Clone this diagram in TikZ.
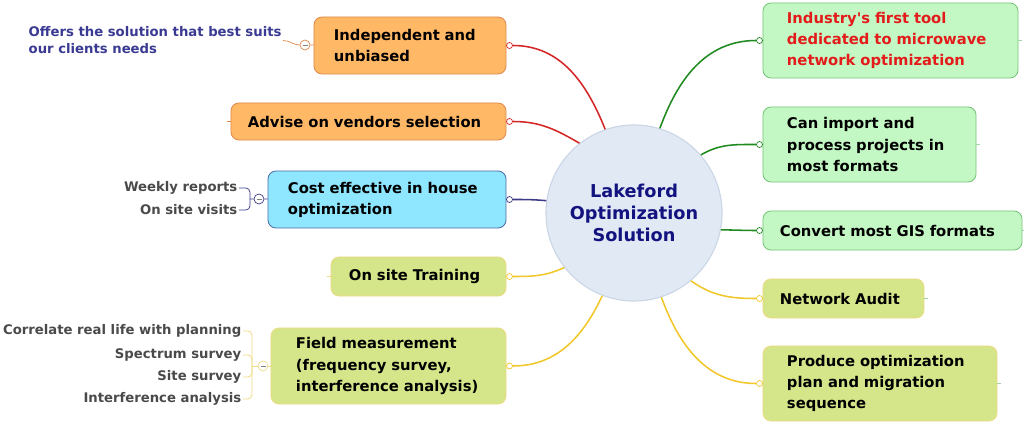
\documentclass[tikz,border=0pt]{standalone}
\usepackage{fontspec}
\setmainfont{DejaVu Sans}[Ligatures=TeXOff]

\definecolor{orfill}{HTML}{FFB966}
\definecolor{ordraw}{HTML}{E0894A}
\definecolor{cyfill}{HTML}{8FE7FF}
\definecolor{cydraw}{HTML}{4F6DA8}
\definecolor{ygfill}{HTML}{D4E58A}
\definecolor{ygdraw}{HTML}{EDDC85}
\definecolor{grfill}{HTML}{C3F7C3}
\definecolor{grdraw}{HTML}{78C278}
\definecolor{hubfill}{HTML}{E1E9F5}
\definecolor{hubdraw}{HTML}{CBD6E6}
\definecolor{redline}{HTML}{D42626}
\definecolor{navyline}{HTML}{3B3B86}
\definecolor{yelline}{HTML}{F2C72A}
\definecolor{grnline}{HTML}{1F8A1F}
\definecolor{hubtext}{HTML}{13137F}
\definecolor{redtext}{HTML}{E41B1B}
\definecolor{subblue}{HTML}{3A3A93}
\definecolor{subgray}{HTML}{4A4A4A}

\tikzset{
  topic/.style={draw, rounded corners=0.2cm, align=left, inner ysep=0pt,
    line width=0.6pt, font=\fontsize{10.5}{15}\selectfont\bfseries},
  orangetopic/.style={topic, fill=orfill, draw=ordraw},
  cyantopic/.style={topic, fill=cyfill, draw=cydraw},
  limetopic/.style={topic, fill=ygfill, draw=ygdraw},
  greentopic/.style={topic, fill=grfill, draw=grdraw},
  hub/.style={circle, fill=hubfill, draw=hubdraw, line width=0.8pt,
    minimum size=4.4cm, inner sep=0pt, align=center, text=hubtext,
    font=\fontsize{12.6}{15.6}\selectfont\bfseries},
  knob/.style={circle, draw, fill=white, inner sep=0pt, minimum size=0.15cm, line width=0.5pt},
  fold/.style={circle, draw, fill=white, inner sep=0pt, minimum size=0.25cm, line width=0.5pt,
    path picture={\draw[gray] (path picture bounding box.center) +(-2.5,0) -- +(2.5,0);}},
  branch/.style={line width=1.1pt},
  subtopic/.style={font=\fontsize{9.4}{12}\selectfont\bfseries, text=subgray, inner sep=1pt},
}

\begin{document}
\begin{tikzpicture}[x=0.025cm, y=0.025cm]
\useasboundingbox (0,0) rectangle (1024,-425);

% Centro
\node[hub] (hub) at (634,-213) {Lakeford\\Optimization\\Solution};

% Ramas izquierda
\node[orangetopic, text width=3.8cm, inner xsep=0.5cm, minimum height=1.425cm] (indep) at (410,-45.5) {Independent and\\unbiased};
\node[orangetopic, text width=6.025cm, inner xsep=0.425cm, minimum height=0.925cm] (advise) at (368.5,-121.5) {Advise on vendors selection};
\node[cyantopic, text width=4.95cm, inner xsep=0.5cm, minimum height=1.425cm] (cost) at (387,-199.5) {Cost effective in house\\optimization};
\node[limetopic, text width=3.475cm, inner xsep=0.45cm, minimum height=0.975cm] (train) at (418.5,-276.5) {On site Training};
\node[limetopic, text width=4.625cm, inner xsep=0.625cm, minimum height=1.9cm] (field) at (388.5,-366) {Field measurement\\(frequency survey,\\interference analysis)};

% Ramas derecha
\node[greentopic, text=redtext, text width=5.175cm, inner xsep=0.6cm, minimum height=1.875cm] (first) at (890.5,-40.5) {Industry's first tool\\dedicated to microwave\\network optimization};
\node[greentopic, text width=4.125cm, inner xsep=0.6cm, minimum height=1.875cm] (import) at (869.5,-144.5) {Can import and\\process projects in\\most formats};
\node[greentopic, text width=5.625cm, inner xsep=0.425cm, minimum height=0.975cm] (gis) at (892.5,-230.5) {Convert most GIS formats};
\node[limetopic, text width=3.175cm, inner xsep=0.425cm, minimum height=0.975cm] (audit) at (843.5,-298.5) {Network Audit};
\node[limetopic, text width=4.65cm, inner xsep=0.6cm, minimum height=1.875cm] (plan) at (880,-383.5) {Produce optimization\\plan and migration\\sequence};

% Conectores
\node[knob, draw=redline] (indepk) at (509.5,-45.5) {};
\node[knob, draw=redline] (advisek) at (509.5,-121.5) {};
\node[knob, draw=navyline] (costk) at (509.5,-199.5) {};
\node[knob, draw=yelline] (traink) at (509.5,-276.5) {};
\node[knob, draw=yelline] (fieldk) at (509.5,-366) {};
\node[knob, draw=grnline] (firstk) at (759.5,-40.5) {};
\node[knob, draw=grnline] (importk) at (759.5,-144.5) {};
\node[knob, draw=grnline] (gisk) at (759.5,-230.5) {};
\node[knob, draw=yelline] (auditk) at (759.5,-298.5) {};
\node[knob, draw=yelline] (plank) at (759.5,-383.5) {};

\draw[branch, redline] (indepk) to[out=0, in=112] (hub.109);
\draw[branch, redline] (advisek) to[out=0, in=150] (hub.128);
\draw[branch, navyline] (costk) to[out=0, in=175] (hub.172);
\draw[branch, yelline] (traink) to[out=0, in=205] (hub.218);
\draw[branch, yelline] (fieldk) to[out=0, in=245] (hub.249);
\draw[branch, grnline] (firstk) to[out=180, in=70] (hub.73);
\draw[branch, grnline] (importk) to[out=180, in=30] (hub.41);
\draw[branch, grnline] (gisk) to[out=180, in=0] (hub.349);
\draw[branch, yelline] (auditk) to[out=180, in=-35] (hub.310);
\draw[branch, yelline] (plank) to[out=180, in=-70] (hub.288);

% Cabos sueltos
\draw[ordraw, line width=0.5pt] (advise.west) -- ++(-4,0);
\draw[ygdraw, line width=0.5pt] (train.west) -- ++(-4,0);
\foreach \n in {first,import,gis,audit,plan}
  \draw[grdraw!70, line width=0.5pt] (\n.east) -- ++(4,0);

% Subtemas
\node[subtopic, text=subblue, align=left, anchor=west] (offers) at (27,-40.5) {Offers the solution that best suits\\our clients needs};
\node[fold, draw=ordraw] (indepf) at (305,-45) {};
\draw[ordraw, line width=0.5pt] (offers.east) to[out=0, in=180] (indepf);
\draw[ordraw, line width=0.5pt] (indepf) -- (indep);

\node[subtopic, anchor=east] (weekly) at (239,-188) {Weekly reports};
\node[subtopic, anchor=east] (visits) at (239,-210) {On site visits};
\coordinate (costj) at (250,-199);
\node[fold, draw=navyline] (costf) at (259,-199) {};
\foreach \n in {weekly,visits}
  \draw[navyline, line width=0.5pt, rounded corners=3pt] (\n.east) -| (costj);
\draw[navyline, line width=0.5pt] (costj) -- (costf) -- (cost);

\node[subtopic, anchor=east] (corr) at (243,-331) {Correlate real life with planning};
\node[subtopic, anchor=east] (spec) at (243,-355) {Spectrum survey};
\node[subtopic, anchor=east] (site) at (243,-377) {Site survey};
\node[subtopic, anchor=east] (intf) at (243,-399) {Interference analysis};
\coordinate (fieldj) at (252,-366);
\node[fold, draw=ygdraw] (fieldf) at (263,-366) {};
\foreach \n in {corr,spec,site,intf}
  \draw[ygdraw, line width=0.6pt, rounded corners=3pt] (\n.east) -| (fieldj);
\draw[ygdraw, line width=0.6pt] (fieldj) -- (fieldf) -- (field);
\end{tikzpicture}
\end{document}
